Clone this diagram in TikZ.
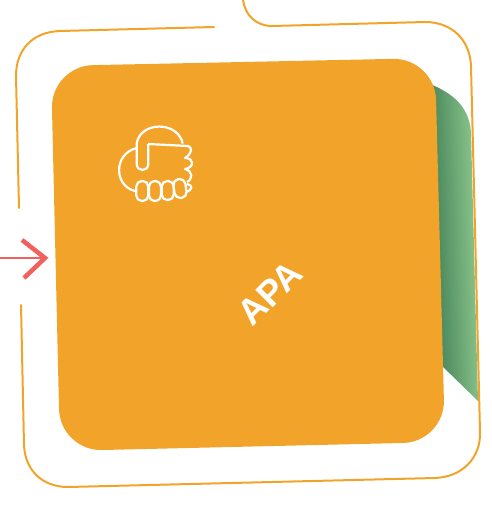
\documentclass[tikz,border=0pt]{standalone}
\usepackage{fontspec}
\setmainfont{Liberation Sans}
\usetikzlibrary{calc}
\definecolor{cardorange}{HTML}{F2A42A}
\definecolor{darkgreen}{HTML}{3A7850}
\definecolor{lightgreen}{HTML}{93CD92}
\definecolor{arrowred}{HTML}{F0605C}
\tikzset{
  outline/.style={draw=cardorange,line width=2pt,line cap=round},
  handline/.style={draw=white,line width=2.2pt,line join=round},
  fingerbox/.style={handline,rounded corners=5.5pt},
}
\begin{document}
\begin{tikzpicture}[x=1pt,y=-1pt]
	\useasboundingbox (0,0) rectangle (492,507);
	% green sheet behind
	\shade[left color=darkgreen,right color=lightgreen,shading angle=92]
		(430,84) .. controls (452,93) and (469,106) .. (471,132) -- (478,401) -- (440,364) -- cycle;
	% outer frame
	\draw[outline] (214,27) -- (60,31) .. controls (32,32) and (16,50) .. (16,76) -- (19,208);
	\draw[outline] (21,305) -- (24,445) .. controls (25,470) and (42,487) .. (68,487)
		-- (435,478) .. controls (462,477) and (481,458) .. (480,432)
		-- (471,66) .. controls (470,40) and (452,22) .. (425,22)
		-- (272,26) .. controls (256,26) and (245,15) .. (243,0);
	% card
	\fill[cardorange,rounded corners=42pt] (51,66) -- (435,58) -- (445,442) -- (60,451) -- cycle;
	% arrow
	\coordinate (arrowstart) at (0,258);
	\coordinate (arrowtip) at (45,258);
	\draw[arrowred,line width=2pt] (arrowstart) -- (arrowtip);
	\draw[arrowred,line width=4.5pt] (22,240) -- (arrowtip) -- (24,278);
	% hand
	\draw[handline] (148,144) -- (188,146) .. controls (192,147) and (193,153) .. (185,158)
		.. controls (194,158) and (195,167) .. (185,169)
		.. controls (193,171) and (193,179) .. (187,182);
	\draw[handline] (136.7,143) .. controls (141,121) and (178,121) .. (182.7,143.5);
	\draw[handline] (136.7,143) -- (136.7,164) .. controls (137,172) and (148,172) .. (148.3,164) -- (148.3,144);
	\draw[handline] (136.7,148) .. controls (113,154) and (114,186) .. (135,191);
	\draw[fingerbox] (136.3,181) rectangle (148.3,201);
	\draw[fingerbox] (149,181) rectangle (161,201);
	\draw[fingerbox] (161.7,181) rectangle (173.7,200);
	\draw[fingerbox,rotate around={8:(180,188.5)}] (174,179) rectangle (186,198);
	\draw[handline] (187,184) .. controls (193,185) and (193,190) .. (186,192);
	% label
	\node[text=white,font=\bfseries\fontsize{36}{36}\selectfont,rotate=45,inner sep=0pt] (apalabel) at (270,293) {APA};
\end{tikzpicture}
\end{document}
